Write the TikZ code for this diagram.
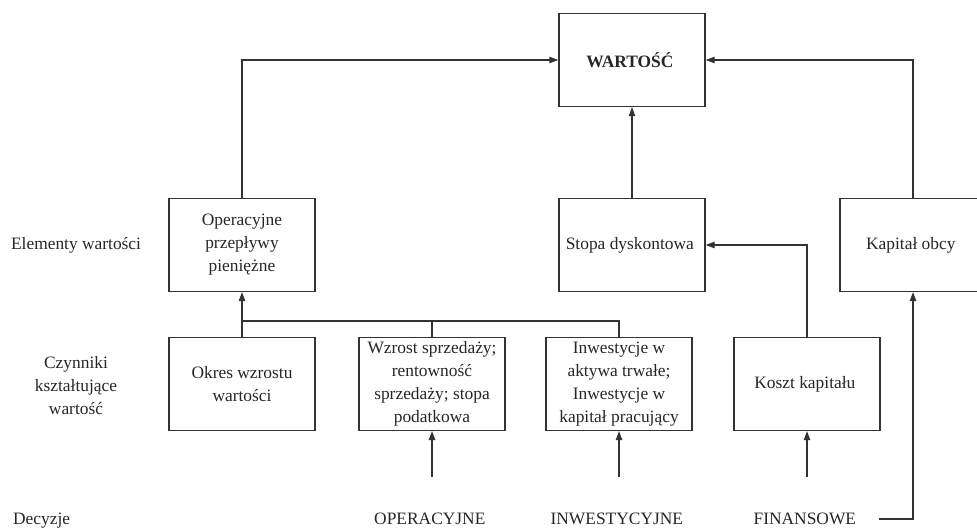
\documentclass[tikz,border=0pt]{standalone}
\usepackage{fontspec}
\setmainfont{Liberation Serif}
\usetikzlibrary{arrows.meta}
\begin{document}
\begin{tikzpicture}[x=0.5pt,y=-0.5pt,
	every node/.style={font=\fontsize{8.7}{11.5}\selectfont,align=center,text=black!85},
	box/.style={draw=black!80,line width=0.6pt,minimum width=73pt,minimum height=46.5pt,inner sep=1pt},
	link/.style={draw=black!80,line width=0.6pt,-{Triangle[length=4.5pt,width=3.2pt]}},
	bus/.style={draw=black!80,line width=0.6pt}
	]
	\useasboundingbox (0,0) rectangle (977,530);
	% gorny rzad
	\node[box]  (wart) at (632,60)  { \textbf{WARTOŚĆ} };
	\node[box]  (oper) at (242,245)  { Operacyjne\\przepływy\\pieniężne };
	\node[box]  (stopa) at (632,245)  { Stopa dyskontowa };
	\node[box]  (kap) at (913,245)  { Kapitał obcy };
	% dolny rzad
	\node[box]  (okres) at (242,384)  { Okres wzrostu\\wartości };
	\node[box]  (wzrost) at (432,384)  { Wzrost sprzedaży;\\rentowność\\sprzedaży; stopa\\podatkowa };
	\node[box]  (inwest) at (619,384)  { Inwestycje w\\aktywa trwałe;\\Inwestycje w\\kapitał pracujący };
	\node[box]  (koszt) at (807,384)  { Koszt kapitału };
	% etykiety
	\node[anchor=west]  (el) at (4,245)  { Elementy wartości };
	\node  (czyn) at (76,386)  { Czynniki\\kształtujące\\wartość };
	\node[anchor=west]  (dec) at (6,521)  { Decyzje };
	\node  (dop) at (432,519)  { OPERACYJNE };
	\node  (din) at (619,519)  { INWESTYCYJNE };
	\node  (dfi) at (807,519)  { FINANSOWE };
	\coordinate  (b) at (242,321);
	\coordinate  (d1) at (432,477);
	\coordinate  (d2) at (619,477);
	\coordinate  (d3) at (807,477);
	\coordinate  (f1) at (879,519);
	\path[link]  (oper.north) |- (wart.west);
	\path[link]  (kap.north) |- (wart.east);
	\path[link]  (stopa.north) -- (wart.south);
	\path[link]  (koszt.north) |- (stopa.east);
	\path[link]  (okres.north) -- (oper.south);
	\path[bus]  (b) -| (inwest.north);
	\path[bus]  (wzrost.north) -- (wzrost.north |- b);
	\path[link]  (d1) -- (wzrost.south);
	\path[link]  (d2) -- (inwest.south);
	\path[link]  (d3) -- (koszt.south);
	\path[link]  (f1) -| (kap.south);
\end{tikzpicture}
\end{document}
